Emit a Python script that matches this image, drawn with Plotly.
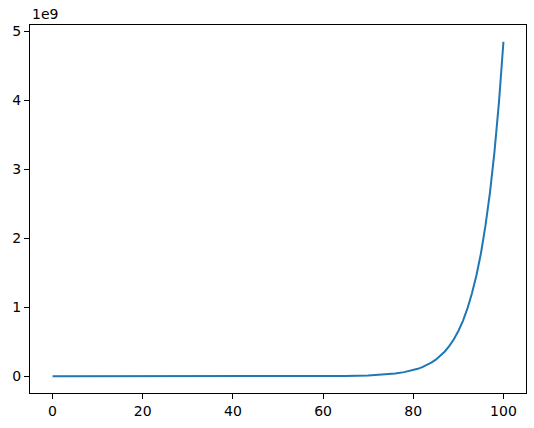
import plotly.graph_objects as go

# x positions and values (in units of 1e9)
x_vals = [0, 10, 20, 30, 40, 50, 55, 60, 65, 70, 72, 74, 76, 78,
          80, 81, 82, 83, 84, 85, 86, 87, 88, 89, 90,
          91, 92, 93, 94, 95, 96, 97, 98, 99, 100]
y_vals = [0.0, 0.0, 0.0, 0.0, 0.0, 0.0002, 0.0006, 0.0016, 0.0044, 0.012, 0.018, 0.027, 0.04, 0.06,
          0.089, 0.108, 0.133, 0.162, 0.198, 0.241, 0.295, 0.36, 0.44, 0.537, 0.656,
          0.80, 0.98, 1.20, 1.46, 1.78, 2.18, 2.66, 3.25, 3.97, 4.85]

x_ticks = [0, 20, 40, 60, 80, 100]
y_ticks = [0, 1, 2, 3, 4, 5]

fig = go.Figure()

fig.add_trace(go.Scatter(
    x=x_vals,
    y=y_vals,
    mode='lines',
    line=dict(color='#1f77b4', width=2),
    hoverinfo='skip'
))

axis_style = dict(
    showgrid=False,
    zeroline=False,
    showline=True,
    linecolor='black',
    linewidth=1,
    mirror=True,
    ticks='outside',
    ticklen=5,
    tickwidth=1,
    tickcolor='black',
    automargin=False,
    tickfont=dict(family='DejaVu Sans', size=14, color='black'),
)

fig.update_layout(
    width=534,
    height=428,
    margin=dict(l=30, r=8, t=25, b=35),
    paper_bgcolor='white',
    plot_bgcolor='white',
    showlegend=False,
    xaxis=dict(range=[-5, 105], tickvals=x_ticks, **axis_style),
    yaxis=dict(range=[-0.2425, 5.0925], tickvals=y_ticks, **axis_style),
)

# matplotlib-style offset label
fig.add_annotation(
    text='1e9', xref='paper', yref='paper', x=0, y=1,
    xanchor='left', yanchor='bottom', showarrow=False,
    font=dict(family='DejaVu Sans', size=14, color='black'),
    yshift=1
)

# drop the default page margin so the figure sits at the window corner
fig.write_html("out.html", config={'displayModeBar': False},
               post_script="document.body.style.margin='0';")
